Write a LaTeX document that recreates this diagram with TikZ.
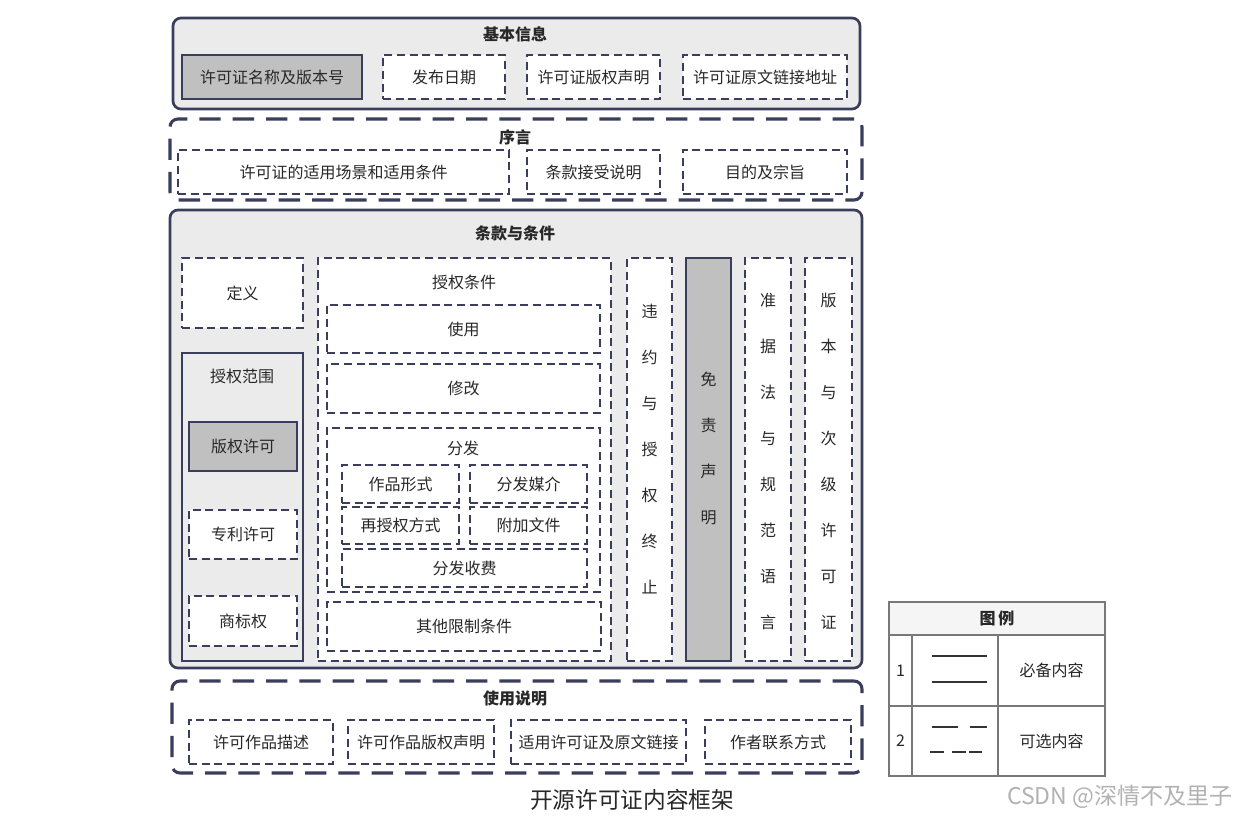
\documentclass[tikz,border=0pt]{standalone}
\usepackage{fontspec}
\setmainfont{Noto Sans CJK SC}
\definecolor{navy}{RGB}{58,62,92}
\definecolor{panel}{RGB}{235,235,235}
\definecolor{darkfill}{RGB}{192,192,192}
\definecolor{legline}{RGB}{120,120,120}
\definecolor{txt}{RGB}{40,40,40}
\tikzset{
  rb/.style args={#1:#2:#3:#4}{minimum width={(#3-#1)*0.75pt}, minimum height={(#4-#2)*0.75pt}, at={({(#1+#3)/2},{(#2+#4)/2+1})}},
  box/.style={draw=navy, line width=1.1pt, inner sep=0pt, text=txt, font=\fontsize{12pt}{14pt}\selectfont},
  reqbox/.style={box, fill=darkfill},
  optbox/.style={box, fill=white, dash pattern=on 6pt off 3.5pt},
  subpanel/.style={box, fill=panel},
  grpsolid/.style={draw=navy, line width=2pt, rounded corners=6pt, fill=panel, inner sep=0pt},
  grpdash/.style={draw=navy, line width=2.3pt, rounded corners=6pt, fill=white, inner sep=0pt, dash pattern=on 16pt off 9pt},
  grptitle/.style={text=txt, font=\bfseries\fontsize{12pt}{14pt}\selectfont},
  subtitle/.style={text=txt, font=\fontsize{12pt}{14pt}\selectfont},
  vtext/.style={text=txt, align=center, font=\fontsize{12pt}{34.5pt}\selectfont, inner sep=0pt},
  legcell/.style={draw=legline, line width=1.1pt, inner sep=0pt, text=txt, font=\fontsize{12pt}{14pt}\selectfont},
}
\begin{document}
\begin{tikzpicture}[x=0.75pt,y=-0.75pt]
\useasboundingbox (0,0) rectangle (1239,817);
\fill[white] (0,0) rectangle (1239,817);

% ===== 基本信息 =====
\node[grpsolid, rb=173:17:860:108] (basic) {};
\node[grptitle] (basicT) at (515,34) {基本信息};
\node[reqbox, rb=182:54:362:98] (b1) {许可证名称及版本号};
\node[optbox, rb=383:54:505:98] (b2) {发布日期};
\node[optbox, rb=527:54:660:98] (b3) {许可证版权声明};
\node[optbox, rb=683:54:847:98] (b4) {许可证原文链接地址};

% ===== 序言 =====
\node[grpdash, rb=170:118:862:199] (pre) {};
\node[grptitle] (preT) at (515,137) {序言};
\node[optbox, rb=178:149:509:193] (p1) {许可证的适用场景和适用条件};
\node[optbox, rb=527:149:660:193] (p2) {条款接受说明};
\node[optbox, rb=683:149:847:193] (p3) {目的及宗旨};

% ===== 条款与条件 =====
\node[grpsolid, rb=170:209:862:667] (terms) {};
\node[grptitle] (termsT) at (515,233) {条款与条件};
\node[optbox, rb=182:257:303:327] (def) {定义};

\node[subpanel, rb=182:352:303:660] (scope) {};
\node[subtitle] (scopeT) at (242,376) {授权范围};
\node[reqbox, rb=189:421:297:470] (s1) {版权许可};
\node[optbox, rb=189:509:297:558] (s2) {专利许可};
\node[optbox, rb=189:595:297:645] (s3) {商标权};

\node[optbox, rb=318:257:611:660] (cond) {};
\node[subtitle] (condT) at (464,282) {授权条件};
\node[optbox, rb=327:304:600:352] (c1) {使用};
\node[optbox, rb=327:363:600:412] (c2) {修改};
\node[optbox, rb=327:427:600:591] (dist) {};
\node[subtitle] (distT) at (463,448) {分发};
\node[optbox, rb=342:464:459:502] (d1) {作品形式};
\node[optbox, rb=470:464:587:502] (d2) {分发媒介};
\node[optbox, rb=342:506:459:543] (d3) {再授权方式};
\node[optbox, rb=470:506:587:543] (d4) {附加文件};
\node[optbox, rb=342:548:587:586] (d5) {分发收费};
\node[optbox, rb=327:601:601:650] (c3) {其他限制条件};

\node[optbox, rb=627:257:672:660] (v1) {};
\node[vtext] (v1T) at (649.5,449) {违\\约\\与\\授\\权\\终\\止};
\node[reqbox, rb=686:257:731:660] (v2) {};
\node[vtext] (v2T) at (708.5,448) {免\\责\\声\\明};
\node[optbox, rb=745:257:791:660] (v3) {};
\node[vtext] (v3T) at (768,461) {准\\据\\法\\与\\规\\范\\语\\言};
\node[optbox, rb=805:257:852:660] (v4) {};
\node[vtext] (v4T) at (828.5,461) {版\\本\\与\\次\\级\\许\\可\\证};

% ===== 使用说明 =====
\node[grpdash, rb=172:680:862:772] (usage) {};
\node[grptitle] (usageT) at (515,698) {使用说明};
\node[optbox, rb=189:719:333:763] (u1) {许可作品描述};
\node[optbox, rb=348:719:494:763] (u2) {许可作品版权声明};
\node[optbox, rb=511:719:686:763] (u3) {适用许可证及原文链接};
\node[optbox, rb=705:719:851:763] (u4) {作者联系方式};

% caption
\node[text=txt, font=\fontsize{17pt}{20pt}\selectfont] (cap) at (632,800) {开源许可证内容框架};

% ===== 图例 =====
\node[legcell, fill=black!4, rb=889:601:1105:634] (legH) {};
\node[grptitle] (legHT) at (997,618) {图\,例};
\node[legcell, rb=889:634:912:705] (n1) {1};
\node[legcell, rb=912:634:998:705] (l1) {};
\node[legcell, rb=998:634:1105:705] (t1) {必备内容};
\node[legcell, rb=889:705:912:775] (n2) {2};
\node[legcell, rb=912:705:998:775] (l2) {};
\node[legcell, rb=998:705:1105:775] (t2) {可选内容};
\draw[black!80, line width=2pt] (932,656) -- (987,656);
\draw[black!80, line width=1.1pt] (932,682) -- (987,682);
\draw[black!80, line width=2pt] (932,727) -- (958,727);
\draw[black!80, line width=2pt] (970,727) -- (987,727);
\draw[black!80, line width=1.1pt] (930,752) -- (944,752);
\draw[black!80, line width=1.1pt] (952,752) -- (966,752);
\draw[black!80, line width=1.1pt] (969,752) -- (982,752);

% watermark
\node[text=black!30, font=\fontsize{17.3pt}{20pt}\selectfont] (wm) at (1120,797) {CSDN @深情不及里子};
\end{tikzpicture}
\end{document}
